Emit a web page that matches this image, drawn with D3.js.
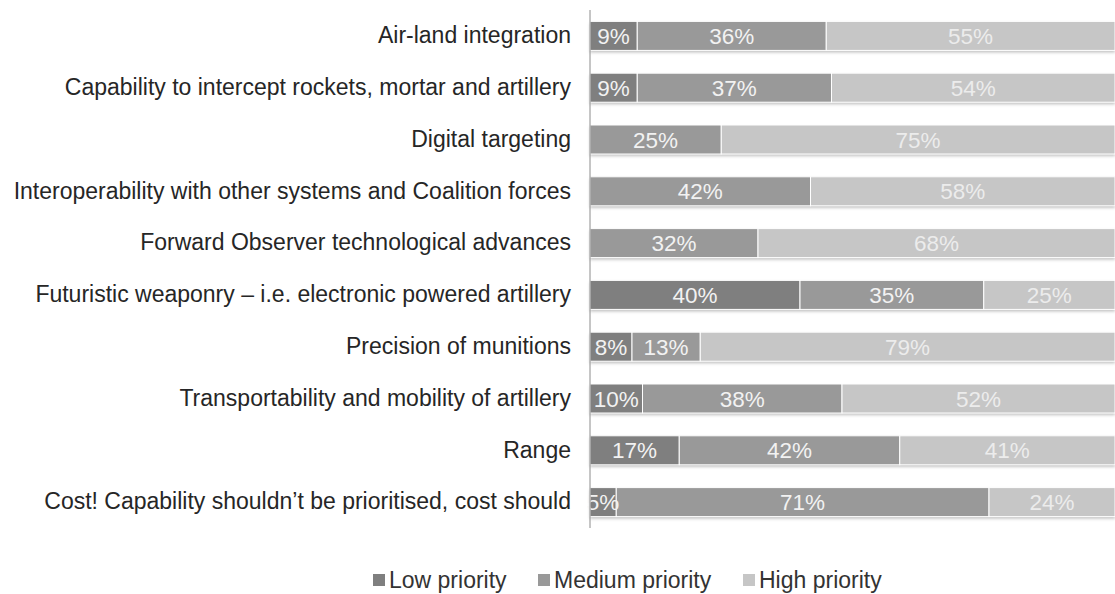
<!DOCTYPE html>
<html>
<head>
<meta charset="utf-8">
<script src="https://cdn.jsdelivr.net/npm/d3@7"></script>
<style>
  body { margin: 0; background: #fff; }
  text { font-family: "Liberation Sans", Arial, sans-serif; }
</style>
</head>
<body>
<svg id="chart" width="1115" height="594"></svg>
<script>
// categories, top to bottom
var categories = [
  "Air-land integration",
  "Capability to intercept rockets, mortar and artillery",
  "Digital targeting",
  "Interoperability with other systems and Coalition forces",
  "Forward Observer technological advances",
  "Futuristic weaponry \u2013 i.e. electronic powered artillery",
  "Precision of munitions",
  "Transportability and mobility of artillery",
  "Range",
  "Cost! Capability shouldn\u2019t be prioritised, cost should"
];
var seriesNames = ["Low priority", "Medium priority", "High priority"];
var lowPriority    = [9, 9, 0, 0, 0, 40, 8, 10, 17, 5];
var mediumPriority = [36, 37, 25, 42, 32, 35, 13, 38, 42, 71];
var highPriority   = [55, 54, 75, 58, 68, 25, 79, 52, 41, 24];

var colours = ["#7f7f7f", "#999999", "#c6c6c6"];
var labelColours = ["#f2f2f2", "#f2f2f2", "#ececec"];

var margin_left = 590, margin_right = 0, margin_top = 10, plot_bottom = 528;
var svg = d3.select("#chart");

// soft drop shadow under the bars
var defs = svg.append("defs");
var f = defs.append("filter").attr("id", "shadow")
  .attr("x", "-5%").attr("y", "-20%").attr("width", "110%").attr("height", "160%");
f.append("feDropShadow").attr("dx", 0).attr("dy", 2).attr("stdDeviation", 1.5)
  .attr("flood-color", "#000").attr("flood-opacity", 0.25);

// build the rows
var rows = categories.map(function(c, i) {
  return {category: c, values: [lowPriority[i], mediumPriority[i], highPriority[i]]};
});

var x = d3.scaleLinear().domain([0, 100]).range([margin_left, 1115 - margin_right]);
var y = d3.scaleBand().domain(categories).range([margin_top, plot_bottom]).paddingInner(0.44).paddingOuter(0.22);

// stacked segments
var segs = [];
rows.forEach(function(r) {
  var start = 0;
  r.values.forEach(function(v, k) {
    if (v > 0) segs.push({category: r.category, k: k, x0: start, x1: start + v, v: v});
    start += v;
  });
});

var bars = svg.append("g");
bars.selectAll("rect.back")
  .data(rows)
  .enter()
  .append("rect")
    .attr("class", "back")
    .attr("x", x(0))
    .attr("y", function(d) { return y(d.category); })
    .attr("width", x(100) - x(0))
    .attr("height", y.bandwidth())
    .attr("fill", "#bbb")
    .attr("filter", "url(#shadow)");

bars.selectAll("rect.seg")
  .data(segs)
  .enter()
  .append("rect")
    .attr("class", "seg")
    .attr("x", function(d) { return x(d.x0); })
    .attr("y", function(d) { return y(d.category); })
    .attr("width", function(d) { return x(d.x1) - x(d.x0); })
    .attr("height", y.bandwidth())
    .attr("fill", function(d) { return colours[d.k]; })
    .attr("stroke", "#fff")
    .attr("stroke-width", 1);

bars.selectAll("text.val")
  .data(segs)
  .enter()
  .append("text")
    .attr("class", "val")
    .attr("x", function(d) { return (x(d.x0) + x(d.x1)) / 2; })
    .attr("y", function(d) { return y(d.category) + y.bandwidth() / 2; })
    .attr("dy", "0.36em")
    .attr("text-anchor", "middle")
    .attr("font-size", "22.5px")
    .attr("fill", function(d) { return labelColours[d.k]; })
    .text(function(d) { return d.v + "%"; });

// y axis: line and category names
var yAxis = svg.append("g")
  .attr("transform", "translate(" + margin_left + ",0)")
  .call(d3.axisLeft(y).tickSize(0).tickPadding(19));
yAxis.select(".domain").attr("stroke", "#8c8c8c").attr("d", "M0," + margin_top + "V" + plot_bottom);
yAxis.selectAll(".tick text")
  .attr("font-size", "23px")
  .attr("font-family", "Liberation Sans, Arial, sans-serif")
  .attr("fill", "#262626");

// legend
var legend = svg.append("g").attr("transform", "translate(0,580)");
var lx = [373, 538, 743];
seriesNames.forEach(function(name, k) {
  legend.append("rect")
    .attr("x", lx[k]).attr("y", -6).attr("width", 12).attr("height", 12)
    .attr("fill", colours[k]);
  legend.append("text")
    .attr("x", lx[k] + 16).attr("y", 0).attr("dy", "0.36em")
    .attr("font-size", "23px").attr("fill", "#333")
    .text(name);
});
</script>
</body>
</html>
